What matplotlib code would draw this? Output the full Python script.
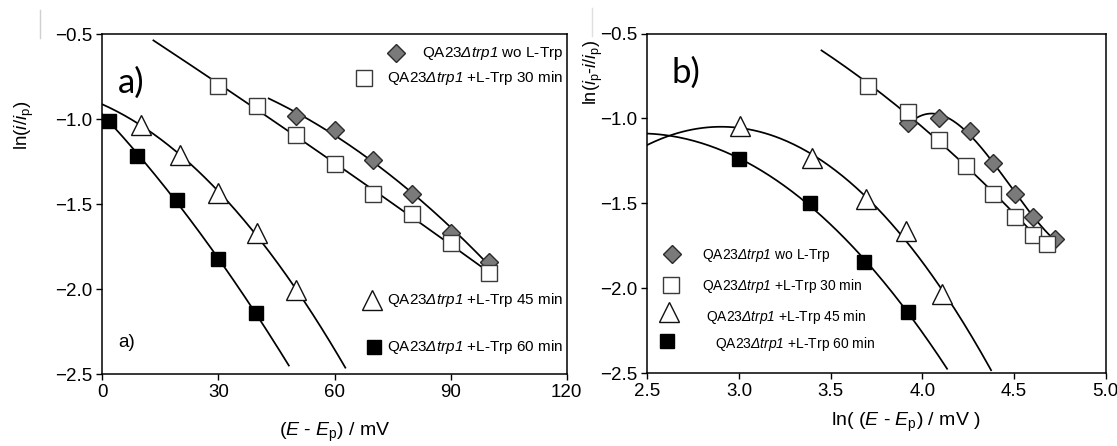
import numpy as np
import matplotlib
matplotlib.use("Agg")
import matplotlib.pyplot as plt
from matplotlib.lines import Line2D

plt.rcParams["font.family"] = ["Liberation Sans", "DejaVu Sans"]
plt.rcParams["font.size"] = 13.5
plt.rcParams["mathtext.fontset"] = "custom"
plt.rcParams["mathtext.rm"] = "Liberation Sans"
plt.rcParams["mathtext.it"] = "Liberation Sans:italic"
# sf slot used for the strain name so digits and Greek stay italic too
plt.rcParams["mathtext.sf"] = "Liberation Sans:italic"

# ---- panel a: ln(i/ip) vs (E - Ep) ----
a_wo_x = [50, 60, 70, 80, 90, 100]
a_wo_y = [-0.98, -1.063, -1.239, -1.441, -1.671, -1.837]
a_30_x = [30, 40, 50, 60, 70, 80, 90, 100]
a_30_y = [-0.804, -0.922, -1.092, -1.265, -1.441, -1.559, -1.729, -1.906]
a_45_x = [10, 20, 30, 40, 50]
a_45_y = [-1.033, -1.21, -1.435, -1.67, -2.004]
a_60_x = [1.7, 9.0, 19.4, 29.8, 39.6]
a_60_y = [-1.008, -1.214, -1.475, -1.824, -2.137]

# ---- panel b: ln(ip - i/ip) vs ln(E - Ep) ----
b_wo_x = [3.924, 4.092, 4.262, 4.385, 4.506, 4.604, 4.721]
b_wo_y = [-1.028, -0.998, -1.077, -1.26, -1.447, -1.579, -1.713]
b_30_x = [3.705, 3.924, 4.092, 4.238, 4.385, 4.506, 4.604, 4.678]
b_30_y = [-0.807, -0.965, -1.126, -1.283, -1.447, -1.579, -1.687, -1.742]
b_45_x = [3.008, 3.396, 3.691, 3.910, 4.105]
b_45_y = [-1.047, -1.234, -1.474, -1.663, -2.037]
b_60_x = [2.998, 3.389, 3.680, 3.924]
b_60_y = [-1.238, -1.5, -1.848, -2.14]

labels = [r"QA23$\mathsf{Δtrp1}$ wo L-Trp",
          r"QA23$\mathsf{Δtrp1}$ +L-Trp 30 min",
          r"QA23$\mathsf{Δtrp1}$ +L-Trp 45 min",
          r"QA23$\mathsf{Δtrp1}$ +L-Trp 60 min"]

styles = [
    dict(marker="D", ms=9.5, mfc="#7a7a7a", mec="#2a2a2a", mew=1.0),
    dict(marker="s", ms=11, mfc="white", mec="#3a3a3a", mew=1.0),
    dict(marker="^", ms=14, mfc="white", mec="#111111", mew=1.0),
    dict(marker="s", ms=10.5, mfc="black", mec="black", mew=1.0),
]


def fit_curve(ax, x, y, deg, x0, x1):
    p = np.polyfit(x, y, deg)
    xs = np.linspace(x0, x1, 200)
    ax.plot(xs, np.polyval(p, xs), color="black", lw=1.25, zorder=2)


def key(ax, style, mx, my, text, tx, ty, fs):
    ax.plot([mx], [my], transform=ax.transAxes, ls="none", clip_on=False,
            zorder=5, **style)
    ax.text(tx, ty, text, transform=ax.transAxes, ha="left", va="center",
            fontsize=fs)


fig = plt.figure(figsize=(11.17, 4.46), dpi=100)
ax1 = fig.add_axes([102.3 / 1117, 1 - 374.3 / 446, 464.4 / 1117, 340 / 446])
ax2 = fig.add_axes([647.3 / 1117, 1 - 373 / 446, 458.4 / 1117, 339.5 / 446])

# panel a curves and points
fit_curve(ax1, a_wo_x, a_wo_y, 2, 43, 100)
fit_curve(ax1, a_30_x, a_30_y, 2, 13.2, 100)
fit_curve(ax1, a_45_x, a_45_y, 2, 0, 62.8)
fit_curve(ax1, a_60_x, a_60_y, 2, 0, 48.2)
for xs, ys, st in zip([a_wo_x, a_30_x, a_45_x, a_60_x],
                      [a_wo_y, a_30_y, a_45_y, a_60_y], styles):
    ax1.plot(xs, ys, ls="none", zorder=4, **st)

# panel b curves and points
fit_curve(ax2, b_wo_x, b_wo_y, 3, 3.93, 4.72)
fit_curve(ax2, b_30_x, b_30_y, 2, 3.45, 4.68)
fit_curve(ax2, b_45_x, b_45_y, 2, 2.5, 4.375)
fit_curve(ax2, b_60_x, b_60_y, 2, 2.5, 4.135)
for xs, ys, st in zip([b_wo_x, b_30_x, b_45_x, b_60_x],
                      [b_wo_y, b_30_y, b_45_y, b_60_y], styles):
    ax2.plot(xs, ys, ls="none", zorder=4, **st)

ax1.set_xlim(0, 120)
ax1.set_xticks([0, 30, 60, 90, 120])
ax2.set_xlim(2.5, 5.0)
ax2.set_xticks([2.5, 3.0, 3.5, 4.0, 4.5, 5.0])
ax2.set_xticklabels(["2.5", "3.0", "3.5", "4.0", "4.5", "5.0"])
for ax in (ax1, ax2):
    ax.set_ylim(-2.5, -0.5)
    ax.set_yticks([-2.5, -2.0, -1.5, -1.0, -0.5])
    ax.tick_params(direction="out", length=4, width=1, pad=3)
    for s in ax.spines.values():
        s.set_linewidth(1.1)

# legends, panel a
key(ax1, styles[0], 0.632, 0.944, labels[0], 0.688, 0.944, 11)
key(ax1, styles[1], 0.563, 0.871, labels[1], 0.613, 0.871, 11)
key(ax1, styles[2], 0.580, 0.219, labels[2], 0.613, 0.219, 11)
key(ax1, styles[3], 0.585, 0.081, labels[3], 0.613, 0.081, 11)

# legends, panel b
key(ax2, styles[0], 0.054, 0.350, labels[0], 0.119, 0.347, 10)
key(ax2, styles[1], 0.052, 0.259, labels[1], 0.119, 0.257, 10)
key(ax2, styles[2], 0.048, 0.180, labels[2], 0.129, 0.166, 10)
key(ax2, styles[3], 0.043, 0.094, labels[3], 0.148, 0.085, 10)

# panel tags
ax1.text(0.034, 0.857, "a)", transform=ax1.transAxes, fontsize=25,
         family="Lato", ha="left", va="center")
ax1.text(0.034, 0.093, "a)", transform=ax1.transAxes, fontsize=13.5,
         ha="left", va="center")
ax2.text(0.052, 0.884, "b)", transform=ax2.transAxes, fontsize=25,
         family="Lato", ha="left", va="center")

# axis titles
fig.text(24 / 1117, 1 - 125 / 446, r"ln($i$/$i_{\rm p}$)", rotation=90,
         ha="center", va="center", fontsize=13.5)
fig.text(593 / 1117, 1 - 73 / 446, r"ln($i_{\rm p}$-$i$/$i_{\rm p}$)",
         rotation=90, ha="center", va="center", fontsize=13)
fig.text(335 / 1117, 1 - 432 / 446, r"($E$ - $E_{\rm p}$) / mV",
         ha="center", va="center", fontsize=14)
fig.text(906 / 1117, 1 - 422 / 446, r"ln( ($E$ - $E_{\rm p}$) / mV )",
         ha="center", va="center", fontsize=14)

# faint separator marks from the source figure
fig.add_artist(Line2D([40 / 1117, 40 / 1117], [1 - 10 / 446, 1 - 38 / 446],
                      color="#d0d0d0", lw=1))
fig.add_artist(Line2D([592 / 1117, 592 / 1117], [1 - 8 / 446, 1 - 36 / 446],
                      color="#e0e0e0", lw=1))

fig.savefig("out.png", dpi=100)
